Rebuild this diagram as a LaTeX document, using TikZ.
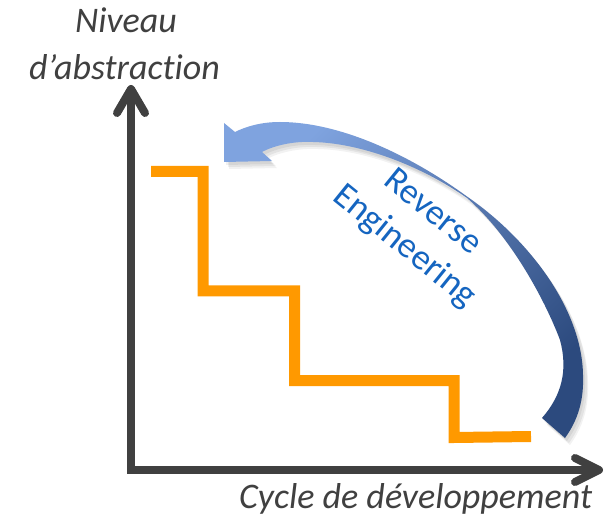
\documentclass[tikz,border=0pt]{standalone}
\usepackage{fontspec}
\setmainfont{Carlito}[Ligatures={NoCommon}]
\definecolor{axisgray}{HTML}{404040}
\definecolor{stairorange}{HTML}{FF9900}
\definecolor{reblue}{HTML}{1565C0}
\definecolor{arrlight}{HTML}{7FA3DF}
\definecolor{arrmid}{HTML}{4A6DB5}
\definecolor{arrdark}{HTML}{2C4A7E}
\tikzset{
  axisline/.style={draw=axisgray, line width=8pt, line cap=butt, line join=miter},
  axistip/.style={draw=axisgray, line width=8pt, line cap=round, line join=round},
  stairline/.style={draw=stairorange, line width=11pt, line cap=butt, line join=miter},
  axislabel/.style={text=axisgray, font=\fontsize{36}{47}\selectfont\itshape, inner sep=0pt},
  relabel/.style={text=reblue, font=\fontsize{36}{44}\selectfont, align=center, rotate=-39, inner sep=0pt},
  repath/.style={insert path={
    (565,438) .. controls (578,420) and (584,400) .. (583,375)
    .. controls (582,310) and (530,240) .. (467,196.5)
    .. controls (410,155) and (340,122) .. (280,122)
    .. controls (260,122) and (245,127) .. (235,132)
    -- (224,123) -- (224,162) -- (272,161) -- (262,152)
    .. controls (275,145) and (295,141) .. (313,142)
    .. controls (360,143) and (420,165) .. (467,198)
    .. controls (510,235) and (545,300) .. (560,340)
    .. controls (568,370) and (562,395) .. (542,418)
    -- cycle}}
}
\begin{document}
\begin{tikzpicture}[x=1pt,y=-1pt]
\useasboundingbox (0,0) rectangle (610,518);
\fill[white] (0,0) rectangle (610,518);

% axes
\coordinate (ytop) at (131,89);
\coordinate (origin) at (131,470);
\coordinate (xend) at (599,470);
\draw[axisline] (ytop) -- (origin) -- (xend);
\coordinate (yl) at (117,113);
\coordinate (yr) at (145,113);
\draw[axistip] (yl) -- (ytop) -- (yr);
\coordinate (xu) at (575,458);
\coordinate (xd) at (575,482);
\draw[axistip] (xu) -- (xend) -- (xd);

% staircase
\coordinate (s0) at (151,171.5);
\coordinate (s1) at (203,171.5);
\coordinate (s2) at (203,291);
\coordinate (s3) at (294.5,291);
\coordinate (s4) at (294.5,380.5);
\coordinate (s5) at (454,380.5);
\coordinate (s6) at (454,437.5);
\coordinate (s7) at (531,436.5);
\draw[stairline] (s0) -- (s1) -- (s2) -- (s3) -- (s4) -- (s5) -- (s6) -- (s7);

% curved arrow with soft shadow
\fill[black, opacity=0.06, shift={(2,3)}, repath];
\fill[black, opacity=0.06, shift={(4,5)}, repath];
\fill[black, opacity=0.05, shift={(5,7)}, repath];
\shade[top color=arrlight, middle color=arrmid, bottom color=arrdark, shading angle=45, repath];

% labels
\node[relabel] (re) at (418,230) {Reverse\\Engineering};
\node[axislabel, anchor=base] (niv) at (126,33) {Niveau};
\node[axislabel, anchor=base] (abs) at (124.5,80) {d’abstraction};
\node[axislabel, anchor=base west] (cyc) at (239,508) {Cycle de développement};
\end{tikzpicture}
\end{document}
